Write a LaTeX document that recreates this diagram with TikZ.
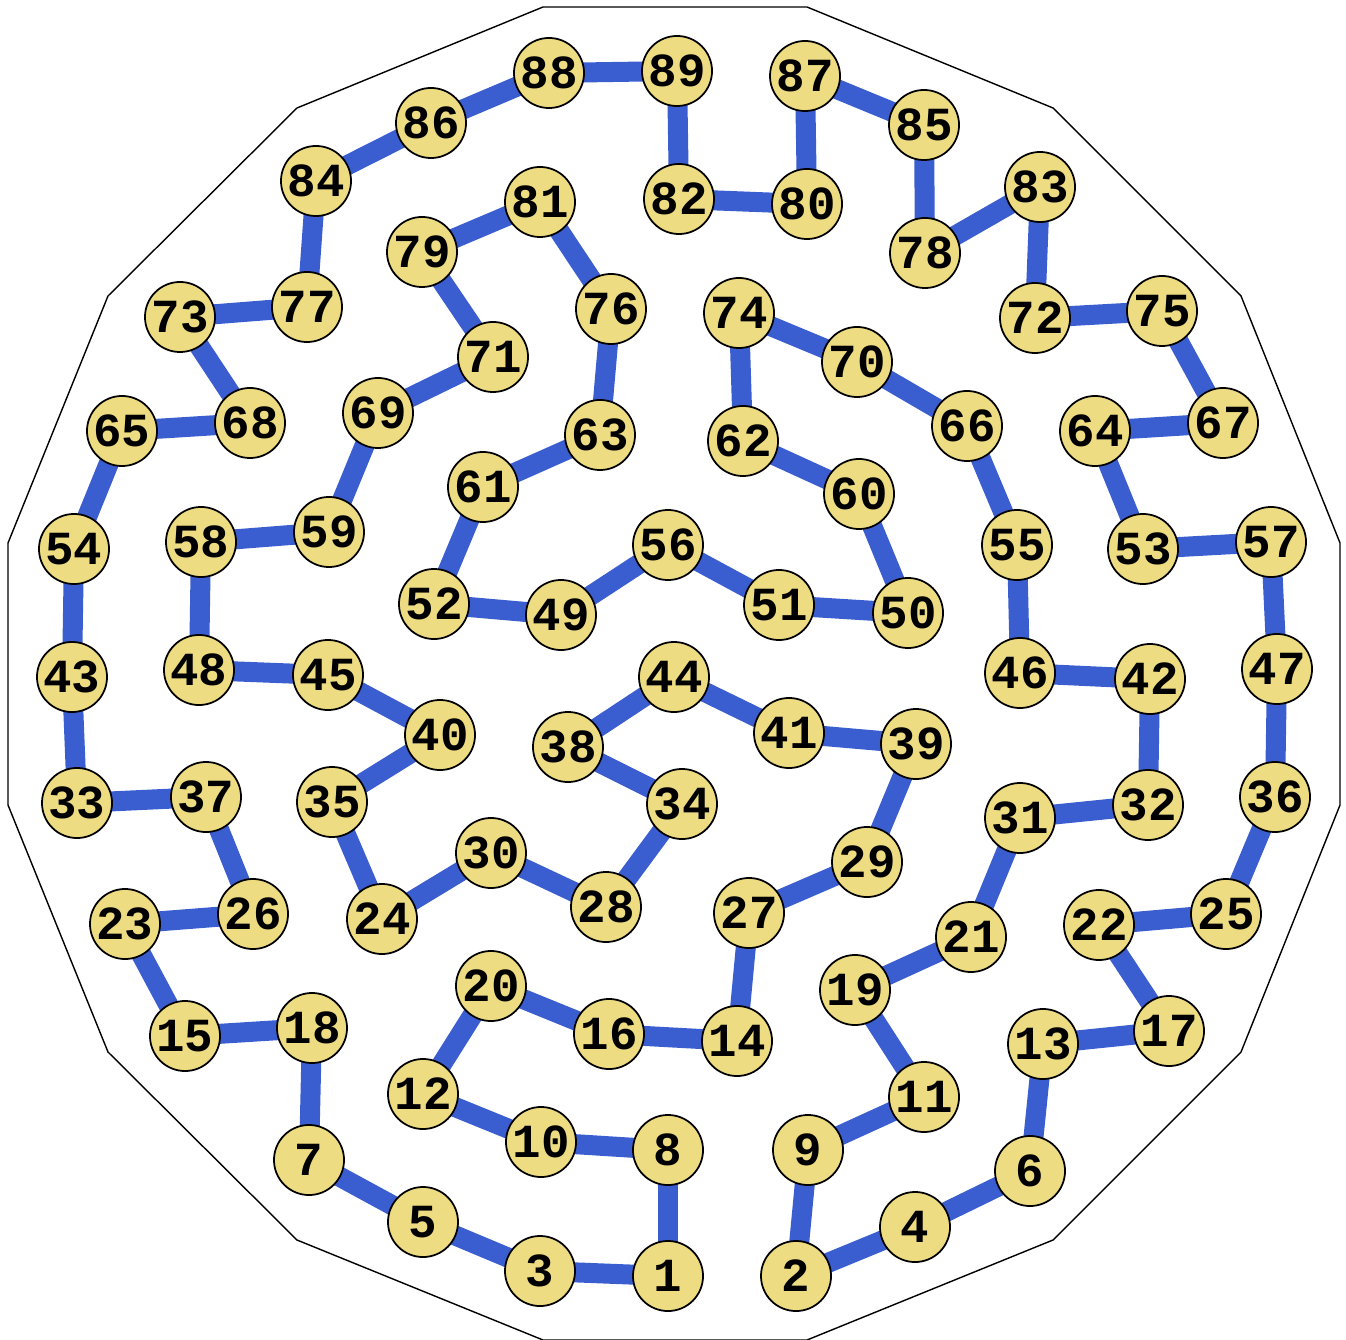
\documentclass[tikz,border=0pt]{standalone}
\usepackage{fontspec}
\setmonofont{Liberation Mono}
\usepackage{tikz}
\usetikzlibrary{backgrounds}
\definecolor{cyclink}{HTML}{3A5ECF}
\definecolor{cycnode}{HTML}{EEDC82}
\tikzset{
  cycvert/.style={
    circle, draw=black, fill=cycnode, line width=0.5pt,
    minimum size=0.70cm, inner sep=0pt,
    font=\fontsize{13.5}{14}\selectfont\ttfamily\bfseries
  },
  cycedge/.style={draw=cyclink, line width=0.2cm},
  cycrim/.style={draw=black, line width=0.4pt}
}
\begin{document}
\begin{tikzpicture}[x=0.01cm, y=-0.01cm]
  \useasboundingbox (0,0) rectangle (1346,1340);

  % outer sixteen-gon
  \draw[cycrim] (543,7) -- (807,7) -- (1053,108) -- (1241,296) -- (1340,543)
    -- (1340,805) -- (1241,1052) -- (1053,1240) -- (807,1340) -- (543,1340)
    -- (297,1240) -- (108,1052) -- (8,805) -- (8,543) -- (108,296)
    -- (297,108) -- cycle;

  % vertices
  \foreach \n/\x/\y in {
      1/668/1276, 2/796/1276, 3/540/1271, 4/915/1227, 5/423/1222,
      6/1030/1171, 7/309/1160, 8/668/1150, 9/808/1150, 10/541/1142,
      11/924/1097, 12/423/1094, 13/1043/1044, 14/737/1041, 15/185/1036,
      16/609/1034, 17/1169/1031, 18/312/1028, 19/855/990, 20/491/986,
      21/971/937, 22/1099/925, 23/125/924, 24/382/919, 25/1226/914,
      26/253/914, 27/749/913, 28/606/907, 29/867/862, 30/491/853,
      31/1020/818, 32/1148/805, 33/77/803, 34/682/804, 35/332/802,
      36/1275/797, 37/206/797, 38/568/747, 39/916/744, 40/440/735,
      41/789/733, 42/1150/679, 43/72/677, 44/674/677, 45/328/675,
      46/1020/673, 47/1277/669, 48/199/670, 49/561/615, 50/908/613,
      51/779/605, 52/434/604, 53/1143/549, 54/74/549, 55/1017/545,
      56/668/545, 57/1271/542, 58/201/542, 59/329/532, 60/859/494,
      61/483/487, 62/743/441, 63/600/435, 64/1095/431, 65/122/431,
      66/967/426, 67/1223/423, 68/250/423, 69/378/413, 70/857/362,
      71/493/357, 72/1035/318, 73/180/317, 74/739/313, 75/1162/311,
      76/611/309, 77/307/307, 78/925/253, 79/422/252, 80/807/204,
      81/540/202, 82/679/199, 83/1040/187, 84/316/181, 85/924/125,
      86/431/123, 87/805/76, 88/549/73, 89/677/71}
    \node[cycvert] (v\n) at (\x,\y) {\n};

  % the cycle through all of them
  \begin{scope}[on background layer]
    \foreach \a/\b in {
        1/3, 3/5, 5/7, 7/18, 18/15, 15/23, 23/26, 26/37, 37/33, 33/43,
        43/54, 54/65, 65/68, 68/73, 73/77, 77/84, 84/86, 86/88, 88/89,
        89/82, 82/80, 80/87, 87/85, 85/78, 78/83, 83/72, 72/75, 75/67,
        67/64, 64/53, 53/57, 57/47, 47/36, 36/25, 25/22, 22/17, 17/13,
        13/6, 6/4, 4/2, 2/9, 9/11, 11/19, 19/21, 21/31, 31/32, 32/42,
        42/46, 46/55, 55/66, 66/70, 70/74, 74/62, 62/60, 60/50, 50/51,
        51/56, 56/49, 49/52, 52/61, 61/63, 63/76, 76/81, 81/79, 79/71,
        71/69, 69/59, 59/58, 58/48, 48/45, 45/40, 40/35, 35/24, 24/30,
        30/28, 28/34, 34/38, 38/44, 44/41, 41/39, 39/29, 29/27, 27/14,
        14/16, 16/20, 20/12, 12/10, 10/8, 8/1}
      \draw[cycedge] (v\a.center) -- (v\b.center);
  \end{scope}
\end{tikzpicture}
\end{document}
